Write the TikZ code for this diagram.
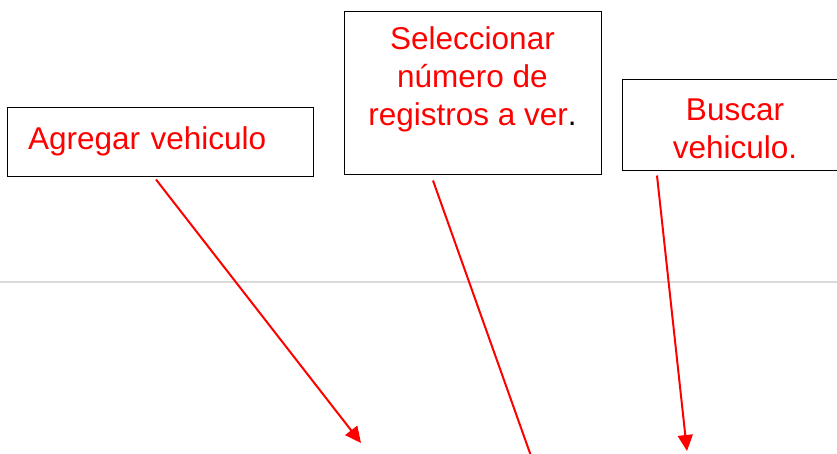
\documentclass[tikz,border=0pt]{standalone}
\usepackage{fontspec}
\setmainfont{Liberation Sans}
\usepackage{tikz}
\usetikzlibrary{arrows.meta, positioning}

\begin{document}
\begin{tikzpicture}[x=1pt, y=-1pt,
    caja/.style={draw=black, line width=1pt, fill=white, inner sep=0pt},
    texto/.style={text=red, align=center, inner sep=0pt, font=\fontsize{31.5}{38}\selectfont},
    flecha/.style={draw=red, line width=2pt, -{Triangle[length=16pt, width=15pt]}}]
  \useasboundingbox (0,0) rectangle (837,453);
  \draw[black!15, line width=2pt] (0,282) -- (837,282);
  % cajas
  \node[caja, texto, minimum height=69pt, text width=264pt, align=left, inner xsep=21pt] (agregar) at (160,141.5) {Agregar vehiculo};
  \node[caja, minimum width=257pt, minimum height=163pt] (selec) at (472.5,92.5) {};
  \node[texto, below=16pt of selec.north] (selectxt) {Seleccionar\\número de\\registros a ver\textcolor{black}{.}};
  \node[caja, minimum width=228pt, minimum height=91pt] (buscar) at (736,124.5) {};
  \node[texto, below=20pt of buscar.north, xshift=-1pt] (buscartxt) {Buscar\\vehiculo.};
  % flechas
  \coordinate (t1) at (361,443);
  \coordinate (t2) at (531,456);
  \coordinate (t3) at (687,451);
  \draw[flecha] ([xshift=-4pt, yshift=-3pt]agregar.south) -- (t1);
  \draw[draw=red, line width=2pt] ([xshift=-39.5pt, yshift=-6pt]selec.south) -- (t2);
  \draw[flecha] ([xshift=-79pt, yshift=-5pt]buscar.south) -- (t3);
\end{tikzpicture}
\end{document}
